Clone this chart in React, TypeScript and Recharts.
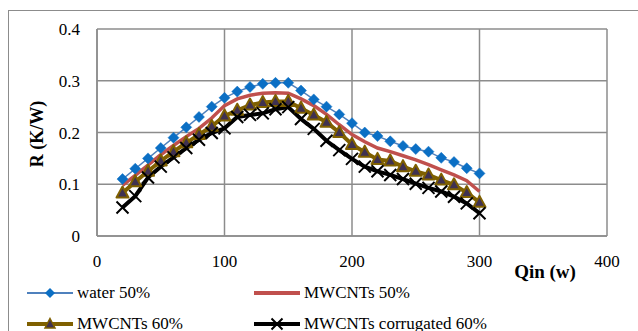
import React from 'react';
import { LineChart, Line, XAxis, YAxis, CartesianGrid } from 'recharts';

const qin = [20, 30, 40, 50, 60, 70, 80, 90, 100, 110, 120, 130, 140, 150, 160, 170, 180, 190, 200, 210, 220, 230, 240, 250, 260, 270, 280, 290, 300];
const water50 = [0.11, 0.13, 0.15, 0.17, 0.19, 0.21, 0.23, 0.25, 0.267, 0.279, 0.288, 0.294, 0.296, 0.296, 0.281, 0.264, 0.25, 0.235, 0.218, 0.2, 0.193, 0.183, 0.174, 0.168, 0.163, 0.151, 0.143, 0.131, 0.121];
const mwcnt50 = [0.098, 0.117, 0.137, 0.157, 0.175, 0.192, 0.208, 0.228, 0.252, 0.265, 0.272, 0.276, 0.277, 0.276, 0.265, 0.252, 0.235, 0.215, 0.196, 0.182, 0.17, 0.163, 0.155, 0.147, 0.138, 0.128, 0.118, 0.107, 0.086];
const mwcnt60 = [0.083, 0.105, 0.125, 0.145, 0.163, 0.18, 0.196, 0.212, 0.232, 0.243, 0.253, 0.258, 0.26, 0.26, 0.247, 0.234, 0.22, 0.2, 0.177, 0.162, 0.148, 0.145, 0.134, 0.125, 0.118, 0.108, 0.099, 0.084, 0.065];
const corrugated60 = [0.055, 0.077, 0.113, 0.134, 0.152, 0.17, 0.186, 0.199, 0.208, 0.23, 0.234, 0.237, 0.245, 0.249, 0.226, 0.207, 0.184, 0.166, 0.149, 0.134, 0.125, 0.118, 0.11, 0.101, 0.093, 0.086, 0.076, 0.063, 0.044];

const xTicks = [0, 100, 200, 300, 400];
const yTicks = [0, 0.1, 0.2, 0.3, 0.4];
const seriesNames = ['water 50%', 'MWCNTs 50%', 'MWCNTs 60%', 'MWCNTs corrugated 60%'];

const data = qin.map((q, i) => ({
  q,
  water: water50[i],
  m50: mwcnt50[i],
  m60: mwcnt60[i],
  corr: corrugated60[i],
}));

const BLUE_LINE = '#4f81bd';
const BLUE_MARK = '#0b6fc4';
const RED = '#c0504d';
const OLIVE = '#7f6000';
const PURPLE = '#3f3151';
const GRID = '#8c8c8c';
const FONT = "'Liberation Serif', 'DejaVu Serif', serif";

const Diamond = (props: any) => {
  const { cx, cy, index } = props;
  if (cx == null || cy == null) return <g key={`dw${index}`} />;
  const r = 5.5;
  return <path key={`dw${index}`} d={`M${cx},${cy - r}L${cx + r},${cy}L${cx},${cy + r}L${cx - r},${cy}Z`} fill={BLUE_MARK} stroke={BLUE_MARK} strokeWidth={0.5} />;
};

const Tri = (props: any) => {
  const { cx, cy, index } = props;
  if (cx == null || cy == null) return <g key={`dt${index}`} />;
  return <path key={`dt${index}`} d={`M${cx},${cy - 6.5}L${cx + 6},${cy + 4.5}L${cx - 6},${cy + 4.5}Z`} fill={PURPLE} stroke={OLIVE} strokeWidth={2} strokeLinejoin="round" />;
};

const Cross = (props: any) => {
  const { cx, cy, index } = props;
  if (cx == null || cy == null) return <g key={`dx${index}`} />;
  const r = 6;
  return (
    <path key={`dx${index}`} d={`M${cx - r},${cy - r}L${cx + r},${cy + r}M${cx + r},${cy - r}L${cx - r},${cy + r}`} stroke="#000" strokeWidth={2} fill="none" />
  );
};

const LegendSample = ({ kind }: { kind: number }) => {
  const w = 46;
  return (
    <svg width={w} height={14} style={{ display: 'block' }}>
      {kind === 0 && (
        <>
          <line x1={0} y1={7} x2={w} y2={7} stroke={BLUE_LINE} strokeWidth={2} />
          <path d={`M${w / 2},2L${w / 2 + 5},7L${w / 2},12L${w / 2 - 5},7Z`} fill={BLUE_MARK} />
        </>
      )}
      {kind === 1 && <line x1={0} y1={7} x2={w} y2={7} stroke={RED} strokeWidth={4} />}
      {kind === 2 && (
        <>
          <line x1={0} y1={7} x2={w} y2={7} stroke={OLIVE} strokeWidth={4} />
          <path d={`M${w / 2},1.5L${w / 2 + 5},11L${w / 2 - 5},11Z`} fill={PURPLE} stroke={OLIVE} strokeWidth={1.5} />
        </>
      )}
      {kind === 3 && (
        <>
          <line x1={0} y1={7} x2={w} y2={7} stroke="#000" strokeWidth={4} />
          <path d={`M${w / 2 - 5.5},1.5L${w / 2 + 5.5},12.5M${w / 2 + 5.5},1.5L${w / 2 - 5.5},12.5`} stroke="#000" strokeWidth={2} />
        </>
      )}
    </svg>
  );
};

const legendPos = [
  { left: 27, top: 283 },
  { left: 254, top: 283 },
  { left: 27, top: 314 },
  { left: 254, top: 314 },
];

export default function App() {
  return (
    <div style={{ position: 'relative', width: 638, height: 331, overflow: 'hidden', background: '#fff', fontFamily: FONT }}>
      <style>{`body{margin:0;}`}</style>
      <div style={{ position: 'absolute', left: 8, top: 10, width: 700, height: 400, border: `1.5px solid ${GRID}`, boxSizing: 'border-box' }} />
      <div style={{ position: 'absolute', left: 0, top: 0 }}>
        <LineChart width={638} height={331} data={data} margin={{ top: 29, right: 31, bottom: 65, left: 0 }} style={{ fontFamily: FONT }}>
          <CartesianGrid stroke={GRID} strokeWidth={1.5} />
          <XAxis
            dataKey="q"
            type="number"
            domain={[0, 400]}
            ticks={xTicks}
            height={30}
            axisLine={{ stroke: GRID, strokeWidth: 1.5 }}
            tickLine={false}
            tickSize={0}
            tickMargin={19}
            tick={{ fill: '#000', fontSize: 17, fontFamily: FONT }}
            label={{
              content: () => (
                <text x={545} y={278} textAnchor="middle" style={{ fontFamily: FONT }} fontWeight="bold" fontSize={19} fill="#000">Qin (w)</text>
              ),
            }}
          />
          <YAxis
            type="number"
            domain={[0, 0.4]}
            ticks={yTicks}
            width={97}
            axisLine={{ stroke: GRID, strokeWidth: 1.5 }}
            tickLine={false}
            tickSize={0}
            tickMargin={17}
            tickFormatter={(v: number) => (v === 0 ? '0' : String(v))}
            tick={{ fill: '#000', fontSize: 17, fontFamily: FONT }}
            label={{
              content: () => (
                <text transform="translate(43,134) rotate(-90)" textAnchor="middle" style={{ fontFamily: FONT }} fontWeight="bold" fontSize={18} fill="#000">R (K/W)</text>
              ),
            }}
          />
          <Line dataKey="water" name={seriesNames[0]} stroke={BLUE_LINE} strokeWidth={1.5} dot={Diamond} isAnimationActive={false} />
          <Line dataKey="m50" name={seriesNames[1]} stroke={RED} strokeWidth={3.5} dot={false} isAnimationActive={false} />
          <Line dataKey="m60" name={seriesNames[2]} stroke={OLIVE} strokeWidth={4} dot={Tri} isAnimationActive={false} />
          <Line dataKey="corr" name={seriesNames[3]} stroke="#000" strokeWidth={4} dot={Cross} isAnimationActive={false} />
        </LineChart>
      </div>
      {seriesNames.map((n, i) => (
        <div key={n} style={{ position: 'absolute', left: legendPos[i].left, top: legendPos[i].top, display: 'flex', alignItems: 'center', fontSize: 17, lineHeight: '19px', color: '#000', whiteSpace: 'nowrap', fontFamily: FONT }}>
          <LegendSample kind={i} />
          <span style={{ marginLeft: 4 }}>{n}</span>
        </div>
      ))}
    </div>
  );
}
